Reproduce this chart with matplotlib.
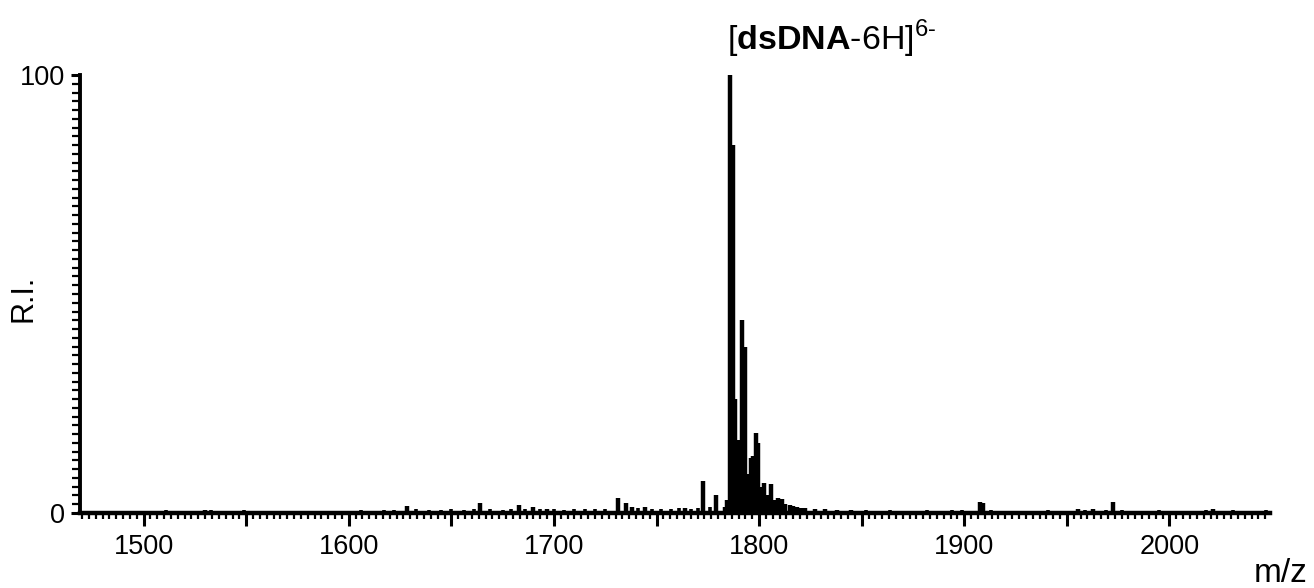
import matplotlib
matplotlib.use("Agg")
import matplotlib.pyplot as plt
from matplotlib.ticker import MultipleLocator, FixedLocator, FuncFormatter

plt.rcParams['font.family'] = ['Liberation Sans', 'DejaVu Sans']
plt.rcParams['mathtext.fontset'] = 'custom'
plt.rcParams['mathtext.rm'] = 'Liberation Sans'
plt.rcParams['mathtext.bf'] = 'Liberation Sans:bold'

# main isotope cluster and other visible peaks (m/z, relative intensity %)
peak_mz = [1783.4, 1784.5, 1785.9, 1787.3, 1788.3, 1789.0, 1789.8, 1790.7, 1791.7,
           1793.2, 1794.2, 1795.0, 1796.1, 1797.1, 1797.8, 1798.5, 1799.5, 1800.5,
           1801.3, 1802.4, 1803.7, 1804.6, 1805.9, 1807.0, 1808.0, 1809.3, 1811.2,
           1812.5, 1815.1, 1816.5, 1818.5, 1820.5, 1822.3, 1827.0, 1832.0, 1838.0,
           1845.0, 1772.7, 1779.0, 1763.9, 1731.2, 1735.1, 1738.0, 1744.4,
           1628.3, 1663.9, 1682.9, 1689.8, 1696.6, 1530.0,
           1907.6, 1909.0, 1955.6, 1962.9, 1972.7, 2021.0]
peak_int = [1.4, 3.0, 100, 84, 26, 12, 16.7, 10, 44,
            38, 9, 6, 12.5, 13, 7, 18.3, 16, 6,
            5, 6.9, 4, 4, 6.6, 3, 3, 3.4, 3.2,
            2.0, 1.8, 1.5, 1.4, 1.2, 1.1, 0.9, 0.8, 0.7,
            0.6, 7.3, 4.1, 1.1, 3.4, 2.3, 1.4, 1.4,
            1.5, 2.3, 1.8, 1.4, 1.0, 0.7,
            2.5, 2.2, 0.9, 1.0, 2.6, 0.8]

# low-level baseline noise
noise_mz = [1472, 1478, 1483, 1489, 1494, 1499, 1506, 1511, 1517, 1522, 1527, 1533,
            1538, 1544, 1549, 1555, 1561, 1566, 1572, 1577, 1583, 1589, 1594, 1600,
            1606, 1611, 1617, 1622, 1633, 1639, 1645, 1650, 1656, 1661, 1669, 1675,
            1679, 1686, 1693, 1700, 1705, 1710, 1715, 1720, 1725, 1741, 1748, 1752,
            1757, 1761, 1767, 1770, 1776, 1852, 1858, 1864, 1870, 1876, 1882, 1888,
            1894, 1899, 1904, 1913, 1918, 1924, 1930, 1936, 1941, 1947, 1952, 1959,
            1966, 1969, 1977, 1983, 1989, 1995, 2001, 2007, 2013, 2018, 2025, 2031,
            2037, 2043, 2047]
noise_int = [0.3, 0.4, 0.3, 0.5, 0.3, 0.4, 0.5, 0.6, 0.4, 0.5, 0.4, 0.6,
             0.5, 0.4, 0.6, 0.4, 0.5, 0.3, 0.4, 0.5, 0.4, 0.3, 0.5, 0.4,
             0.6, 0.5, 0.7, 0.6, 0.8, 0.6, 0.7, 0.9, 0.6, 0.8, 0.9, 0.7,
             0.8, 1.0, 0.8, 0.9, 0.7, 1.0, 0.8, 0.9, 1.0, 1.1, 1.0, 0.9,
             1.0, 1.2, 1.0, 1.1, 1.3, 0.6, 0.5, 0.6, 0.4, 0.5, 0.6, 0.4,
             0.6, 0.7, 0.5, 0.7, 0.5, 0.4, 0.5, 0.4, 0.6, 0.5, 0.4, 0.6,
             0.5, 0.7, 0.6, 0.5, 0.4, 0.6, 0.5, 0.4, 0.5, 0.6, 0.5, 0.6,
             0.5, 0.4, 0.6]

fig = plt.figure(figsize=(13.14, 5.88), dpi=100)
ax = fig.add_axes([80 / 1314, 75 / 588, 1190 / 1314, 438 / 588])

ax.vlines(noise_mz, 0, noise_int, color='black', lw=2.6)
ax.vlines(peak_mz, 0, peak_int, color='black', lw=3.2)

ax.set_xlim(1469, 2049)
ax.set_ylim(0, 100)

for s in ['top', 'right']:
    ax.spines[s].set_visible(False)
ax.spines['left'].set_linewidth(2.8)
ax.spines['bottom'].set_linewidth(3.2)

ax.xaxis.set_major_locator(MultipleLocator(50))
ax.xaxis.set_minor_locator(MultipleLocator(10 / 3))
ax.xaxis.set_major_formatter(FuncFormatter(lambda v, p: f'{v:.0f}' if round(v) % 100 == 0 else ''))
ax.yaxis.set_major_locator(FixedLocator([0, 100]))
ax.yaxis.set_minor_locator(MultipleLocator(2))

ax.tick_params(axis='x', which='major', direction='out', length=9, width=2.2, labelsize=19.5, pad=6)
ax.tick_params(axis='x', which='minor', direction='out', length=4.5, width=1.6)
ax.tick_params(axis='y', which='major', direction='out', length=6.5, width=2.2, labelsize=19.5, pad=4)
ax.tick_params(axis='y', which='minor', direction='out', length=5.5, width=1.6)

fig.text(24 / 1314, 1 - 298 / 588, 'R.I.', rotation=90, fontsize=22, ha='center', va='center')
fig.text(1307 / 1314, 1 - 582 / 588, 'm/z', fontsize=24, ha='right', va='baseline')
fig.text(727 / 1314, 1 - 50 / 588, r'[$\mathbf{dsDNA}$-6H]$^{6\text{-}}$', fontsize=24.5,
         ha='left', va='baseline')

fig.savefig('out.png', dpi=100, facecolor='white')
